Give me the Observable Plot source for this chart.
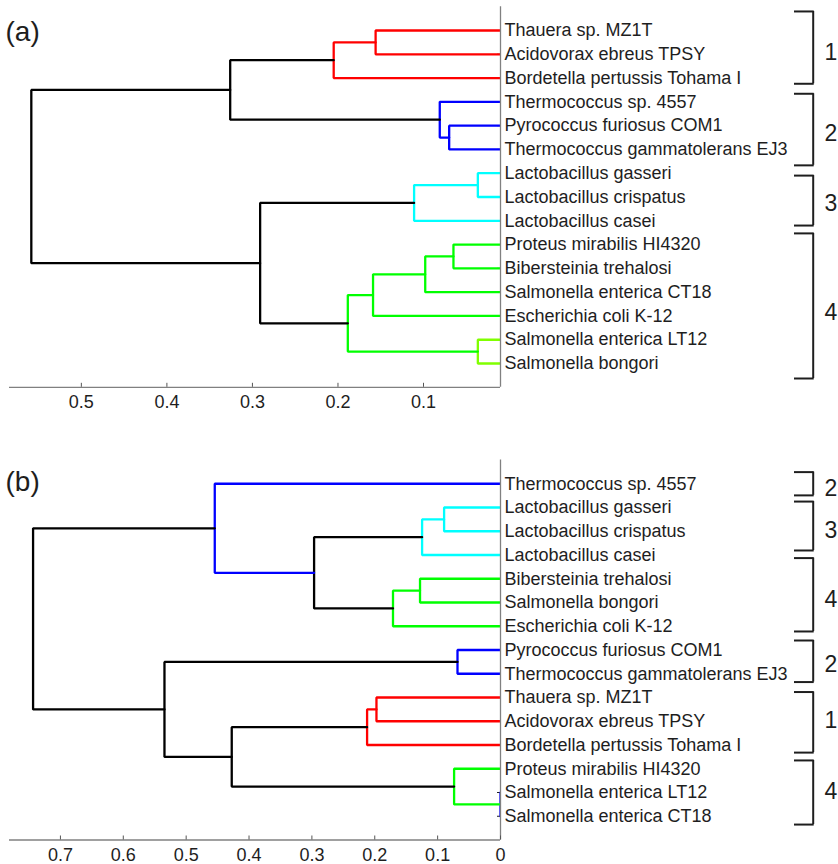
<!DOCTYPE html>
<html>
<head>
<meta charset="utf-8">
<script src="https://cdn.jsdelivr.net/npm/d3@7"></script>
<script src="https://cdn.jsdelivr.net/npm/@observablehq/plot@0.6"></script>
<style>
  html, body { margin: 0; padding: 0; background: #fff; }
  #chart svg { display: block; }
</style>
</head>
<body>
<div id="chart"></div>
<script>
// ---------- Panel (a) ----------
const leavesA = [
  "Thauera sp. MZ1T",
  "Acidovorax ebreus TPSY",
  "Bordetella pertussis Tohama I",
  "Thermococcus sp. 4557",
  "Pyrococcus furiosus COM1",
  "Thermococcus gammatolerans EJ3",
  "Lactobacillus gasseri",
  "Lactobacillus crispatus",
  "Lactobacillus casei",
  "Proteus mirabilis HI4320",
  "Bibersteinia trehalosi",
  "Salmonella enterica CT18",
  "Escherichia coli K-12",
  "Salmonella enterica LT12",
  "Salmonella bongori"
];
// links: [child A, child B, height, colour]; a number refers to an earlier link
const linksA = [
  ["Thauera sp. MZ1T", "Acidovorax ebreus TPSY", 0.156, "#ff0000"],        // 0
  [0, "Bordetella pertussis Tohama I", 0.205, "#ff0000"],                  // 1
  ["Pyrococcus furiosus COM1", "Thermococcus gammatolerans EJ3", 0.070, "#0000ff"], // 2
  ["Thermococcus sp. 4557", 2, 0.081, "#0000ff"],                          // 3
  [1, 3, 0.326, "#000000"],                                                // 4
  ["Lactobacillus gasseri", "Lactobacillus crispatus", 0.0365, "#00ffff"], // 5
  [5, "Lactobacillus casei", 0.111, "#00ffff"],                            // 6
  ["Proteus mirabilis HI4320", "Bibersteinia trehalosi", 0.065, "#00ff00"],// 7
  [7, "Salmonella enterica CT18", 0.098, "#00ff00"],                       // 8
  [8, "Escherichia coli K-12", 0.159, "#00ff00"],                          // 9
  ["Salmonella enterica LT12", "Salmonella bongori", 0.0365, "#80ff00"],   // 10
  [9, 10, 0.1885, "#00ff00"],                                              // 11
  [6, 11, 0.291, "#000000"],                                               // 12
  [4, 12, 0.5585, "#000000"]                                               // 13
];
const xDomainA = [0.584, 0.01];
const ticksA = [0.5, 0.4, 0.3, 0.2, 0.1];
const bracketsA = [
  {from: 0.2, to: 3.24, label: "1", at: 1.91},
  {from: 3.66, to: 6.67, label: "2", at: 5.33},
  {from: 7.1, to: 9.2, label: "3", at: 8.27},
  {from: 9.53, to: 15.63, label: "4", at: 12.84}
];

// ---------- Panel (b) ----------
const leavesB = [
  "Thermococcus sp. 4557",
  "Lactobacillus gasseri",
  "Lactobacillus crispatus",
  "Lactobacillus casei",
  "Bibersteinia trehalosi",
  "Salmonella bongori",
  "Escherichia coli K-12",
  "Pyrococcus furiosus COM1",
  "Thermococcus gammatolerans EJ3",
  "Thauera sp. MZ1T",
  "Acidovorax ebreus TPSY",
  "Bordetella pertussis Tohama I",
  "Proteus mirabilis HI4320",
  "Salmonella enterica LT12",
  "Salmonella enterica CT18"
];
const linksB = [
  ["Lactobacillus gasseri", "Lactobacillus crispatus", 0.0897, "#00ffff"], // 0
  [0, "Lactobacillus casei", 0.1247, "#00ffff"],                           // 1
  ["Bibersteinia trehalosi", "Salmonella bongori", 0.128, "#00ff00"],      // 2
  [2, "Escherichia coli K-12", 0.171, "#00ff00"],                          // 3
  [1, 3, 0.2965, "#000000"],                                               // 4
  ["Thermococcus sp. 4557", 4, 0.4545, "#0000ff"],                         // 5
  ["Pyrococcus furiosus COM1", "Thermococcus gammatolerans EJ3", 0.0684, "#0000ff"], // 6
  ["Thauera sp. MZ1T", "Acidovorax ebreus TPSY", 0.1973, "#ff0000"],       // 7
  [7, "Bordetella pertussis Tohama I", 0.2122, "#ff0000"],                 // 8
  ["Salmonella enterica LT12", "Salmonella enterica CT18", 0.0, "#0000ff"],// 9
  ["Proteus mirabilis HI4320", 9, 0.0738, "#00ff00"],                      // 10
  [8, 10, 0.4275, "#000000"],                                              // 11
  [6, 11, 0.5345, "#000000"],                                              // 12
  [5, 12, 0.7435, "#000000"]                                               // 13
];
const xDomainB = [0.781, 0];
const ticksB = [0.7, 0.6, 0.5, 0.4, 0.3, 0.2, 0.1, 0];
const bracketsB = [
  {from: 0.51, to: 1.49, label: "2", at: 1.19},
  {from: 1.75, to: 3.81, label: "3", at: 2.97},
  {from: 4.13, to: 7.22, label: "4", at: 5.88},
  {from: 7.6, to: 9.35, label: "2", at: 8.62},
  {from: 9.77, to: 12.32, label: "1", at: 10.96},
  {from: 12.65, to: 15.35, label: "4", at: 13.98}
];

// ---------- helpers ----------
function treeSegments(leaves, links) {
  const leafPos = new Map(leaves.map((n, i) => [n, {x: 0, y: i + 1}]));
  const nodes = [];
  const pts = [];
  links.forEach(([a, b, h, c], k) => {
    const pa = typeof a === "number" ? nodes[a] : leafPos.get(a);
    const pb = typeof b === "number" ? nodes[b] : leafPos.get(b);
    nodes[k] = {x: h, y: (pa.y + pb.y) / 2};
    pts.push(
      {id: k, x: pa.x, y: pa.y, c},
      {id: k, x: h, y: pa.y, c},
      {id: k, x: h, y: pb.y, c},
      {id: k, x: pb.x, y: pb.y, c}
    );
  });
  return pts;
}

const FONT = "'Liberation Sans', Arial, Helvetica, sans-serif";
const INK = "#1e1e1e";
const AXIS = "#808080";

function panel({leaves, links, xDomain, ticks, brackets, letter, height, marginTop, marginBottom, letterDy}) {
  const n = leaves.length;
  const xEnd = xDomain[1];
  const pts = treeSegments(leaves, links);
  const ends = brackets.flatMap(b => [{y: b.from}, {y: b.to}]);
  return Plot.plot({
    width: 838,
    height,
    marginLeft: 9,
    marginRight: 338,
    marginTop,
    marginBottom,
    style: {fontFamily: FONT, background: "#fff", overflow: "visible"},
    x: {domain: xDomain, label: null},
    y: {domain: [0, n + 1], reverse: true, label: null},
    color: {type: "identity"},
    marks: [
      // inward y ticks (hidden behind leaf lines)
      Plot.axisY({anchor: "right", ticks: d3.range(1, n + 1), tickSize: -4, tickFormat: () => "", stroke: INK, label: null}),
      // dendrogram
      Plot.line(pts, {x: "x", y: "y", z: "id", stroke: "c", strokeWidth: 2.3, strokeLinejoin: "miter", clip: true}),
      // axis lines
      Plot.ruleY([n + 1], {stroke: AXIS, strokeWidth: 1.3}),
      Plot.ruleX([xEnd], {stroke: AXIS, strokeWidth: 1.3}),
      // x ticks (inward) and labels
      Plot.axisX({ticks, tickSize: -4, tickFormat: () => "", stroke: "#555", label: null}),
      Plot.axisX({ticks, tickSize: 0, tickPadding: 8, fontSize: 18, fill: INK, tickFormat: d => String(d), label: null}),
      // leaf names
      Plot.text(leaves, {y: (d, i) => i + 1, text: d => d, frameAnchor: "right", dx: 4, textAnchor: "start", lineAnchor: "middle", fontSize: 18, fill: INK}),
      // brackets
      Plot.ruleX(brackets, {x: () => xEnd, y1: "from", y2: "to", dx: 312.7, stroke: INK, strokeWidth: 2}),
      Plot.ruleY(ends, {y: "y", x1: () => xEnd, x2: () => xEnd, insetLeft: 294, insetRight: -313.7, stroke: INK, strokeWidth: 2}),
      Plot.text(brackets, {y: "at", text: "label", frameAnchor: "right", dx: 330.5, textAnchor: "middle", lineAnchor: "middle", fontSize: 23, fill: INK}),
      // panel letter
      Plot.text([letter], {text: d => d, frameAnchor: "top-left", dx: -4, dy: letterDy, textAnchor: "start", lineAnchor: "middle", fontSize: 28, fill: INK})
    ]
  });
}

const chart = document.getElementById("chart");
chart.append(panel({
  leaves: leavesA, links: linksA, xDomain: xDomainA, ticks: ticksA, brackets: bracketsA,
  letter: "(a)", height: 430, marginTop: 6.2, marginBottom: 43.2, letterDy: 25
}));
chart.append(panel({
  leaves: leavesB, links: linksB, xDomain: xDomainB, ticks: ticksB, brackets: bracketsB,
  letter: "(b)", height: 434, marginTop: 29.5, marginBottom: 24.5, letterDy: 22.5
}));
</script>
</body>
</html>
